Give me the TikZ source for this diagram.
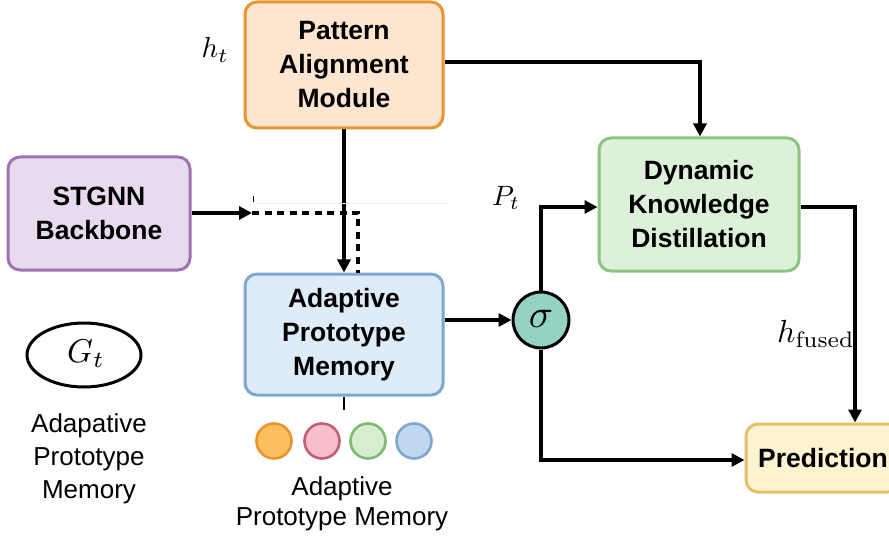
\documentclass[tikz,border=0pt]{standalone}
\usepackage[no-math]{fontspec}
\setmainfont{Liberation Sans}
\usetikzlibrary{arrows.meta,shapes.geometric}
\definecolor{orB}{HTML}{E8952F}\definecolor{orF}{HTML}{FDE5CF}
\definecolor{puB}{HTML}{9E72B3}\definecolor{puF}{HTML}{E8DAEF}
\definecolor{blB}{HTML}{7FA6CF}\definecolor{blF}{HTML}{DEEBF8}
\definecolor{grB}{HTML}{8DC283}\definecolor{grF}{HTML}{DDF0D9}
\definecolor{yeB}{HTML}{E2BF6A}\definecolor{yeF}{HTML}{FDF3CF}
\definecolor{teF}{HTML}{94D3C1}
\definecolor{c1F}{HTML}{FDBE5E}\definecolor{c2F}{HTML}{F9BFC9}\definecolor{c2B}{HTML}{C0607A}
\definecolor{c3F}{HTML}{D6EDD0}\definecolor{c3B}{HTML}{7DBB75}\definecolor{c4F}{HTML}{BFD8F0}
\begin{document}
\begin{tikzpicture}[x=1pt,y=-1pt,
  box/.style={draw,line width=3pt,rounded corners=12pt,align=center,
    font=\fontsize{26.5}{34}\selectfont\bfseries,inner sep=0pt},
  conn/.style={line width=3.2pt,-{Triangle[length=13pt,width=13pt]}},
  dsh/.style={line width=3.2pt,dash pattern=on 7pt off 5.5pt},
  dot/.style={circle,line width=2.6pt,minimum size=35pt,inner sep=0pt,draw},
  lbl/.style={align=center,font=\fontsize{26}{33}\selectfont}]
\useasboundingbox (0,0) rectangle (889,540);
\clip (0,0) rectangle (889,540);
\node[box,draw=orB,fill=orF,minimum width=198pt,minimum height=126pt] (pam) at (344,65) {Pattern\\Alignment\\Module};
\node[box,draw=puB,fill=puF,minimum width=182pt,minimum height=113pt] (stg) at (99,213.5) {STGNN\\Backbone};
\node[box,draw=blB,fill=blF,minimum width=198pt,minimum height=121pt] (apm) at (344,334.5) {Adaptive\\Prototype\\Memory};
\node[box,draw=grB,fill=grF,minimum width=200pt,minimum height=133pt] (dkd) at (699,204.5) {Dynamic\\Knowledge\\Distillation};
\node[box,draw=yeB,fill=yeF,minimum width=154pt,minimum height=68pt] (pred) at (823,458) {Prediction};
\node[circle,draw,line width=3pt,fill=teF,minimum size=56pt,inner sep=0pt] (sig) at (541,320) {};
\node[scale=4] (sigl) at (541,319) {$\sigma$};
\node[ellipse,draw,line width=3pt,minimum width=114pt,minimum height=64pt,inner sep=0pt] (gt) at (84,355) {};
\node[scale=3.3] (gtl) at (86,354) {$G_t$};
% labels
\node[scale=2.9] (ht) at (215,50) {$h_t$};
\node[scale=2.8] (pt) at (506,198) {$P_t$};
\node[scale=3.2] (hf) at (816,334) {$h_{\mathrm{fused}}$};
\node[lbl] (l1) at (89,459) {Adapative\\Prototype\\Memory};
\node[lbl,font=\fontsize{26}{30}\selectfont] (l2) at (342,504) {Adaptive\\Prototype Memory};
% prototype circles
\node[dot,draw=orB,fill=c1F] (p1) at (274,441) {};
\node[dot,draw=c2B,fill=c2F] (p2) at (322,441) {};
\node[dot,draw=c3B,fill=c3F] (p3) at (368,441) {};
\node[dot,draw=blB,fill=c4F] (p4) at (414,441) {};
% connectors
\coordinate (j1) at (700,62);
\draw[conn] (pam.east |- j1) -- (j1) -- (dkd.north -| j1);
\draw[conn] (pam.south) -- (apm.north);
\coordinate (d1) at (252,213);
\coordinate (d2) at (358,213);
\draw[conn] (stg.east |- d1) -- (d1);
\draw[dsh] (d1) -- (d2) -- (apm.north -| d2);
\draw[line width=1pt] (253,196) -- (253,202);
\draw[gray!12,line width=0.8pt] (253,203) -- (450,203);
\draw[conn] (apm.east |- sig) -- (sig.west);
\coordinate (s1) at (541,207);
\draw[conn] (sig.north) -- (s1) -- (dkd.west |- s1);
\coordinate (s2) at (541,460);
\draw[conn] (sig.south) -- (s2) -- (pred.west |- s2);
\coordinate (k1) at (855,207);
\draw[conn] (dkd.east |- k1) -- (k1) -- (pred.north -| k1);
\coordinate (m1) at (344,410);
\draw[line width=2pt] (apm.south) -- (m1);
\end{tikzpicture}
\end{document}
